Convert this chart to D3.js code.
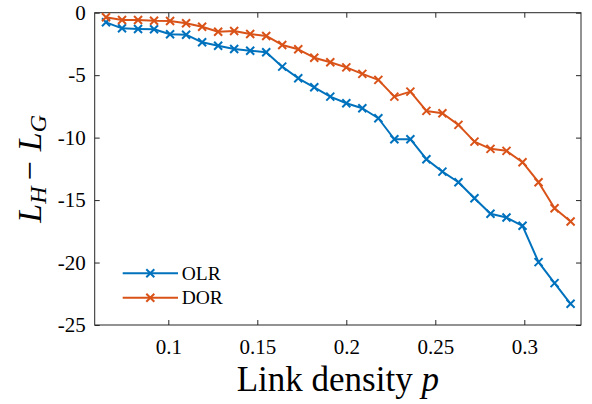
<!DOCTYPE html>
<html>
<head>
<meta charset="utf-8">
<script src="https://cdn.jsdelivr.net/npm/d3@7"></script>
<style>
  body { margin: 0; background: #fff; }
  svg text { font-family: 'Liberation Serif', serif; fill: #000; }
</style>
</head>
<body>
<div id="chart"></div>
<script>
// link density values (x)
const density = [0.065, 0.074, 0.083, 0.092, 0.101, 0.110, 0.119, 0.128, 0.137, 0.146,
  0.155, 0.164, 0.173, 0.182, 0.191, 0.200, 0.209, 0.218, 0.227, 0.236,
  0.245, 0.254, 0.263, 0.272, 0.281, 0.290, 0.299, 0.308, 0.317, 0.326];

const olr = [-0.77, -1.25, -1.30, -1.33, -1.73, -1.76, -2.37, -2.64, -2.90, -3.04,
  -3.17, -4.32, -5.25, -5.97, -6.72, -7.25, -7.65, -8.45, -10.13, -10.13,
  -11.73, -12.72, -13.57, -14.85, -16.10, -16.40, -17.06, -19.97, -21.65, -23.30];

const dor = [-0.37, -0.58, -0.58, -0.64, -0.66, -0.85, -1.12, -1.52, -1.46, -1.70,
  -1.86, -2.58, -2.93, -3.60, -3.97, -4.38, -4.90, -5.38, -6.72, -6.32,
  -7.86, -8.05, -8.98, -10.32, -10.90, -11.06, -11.97, -13.57, -15.65, -16.72];

const seriesNames = ["OLR", "DOR"];
const xTicks = [0.1, 0.15, 0.2, 0.25, 0.3];
const yTicks = [0, -5, -10, -15, -20, -25];

const colors = ["#0072BD", "#D95319"];
const series = [olr, dor].map((vals, i) => ({
  name: seriesNames[i],
  color: colors[i],
  points: vals.map((v, j) => ({ p: density[j], v }))
}));

const fullWidth = 592;
const fullHeight = 404;
const margin = { top: 12.7, right: 11, bottom: 79, left: 94.7 };
const width = fullWidth - margin.left - margin.right;
const height = fullHeight - margin.top - margin.bottom;

const svg = d3.select("#chart")
  .append("svg")
  .attr("width", fullWidth)
  .attr("height", fullHeight);

const g = svg.append("g")
  .attr("transform", `translate(${margin.left}, ${margin.top})`);

const xScale = d3.scaleLinear().domain([0.05865, 0.33185]).range([0, width]);
const yScale = d3.scaleLinear().domain([-25, 0]).range([height, 0]);

const axisColor = "#262626";
const tickLen = 5;

// frame
g.append("rect")
  .attr("width", width)
  .attr("height", height)
  .attr("fill", "none")
  .attr("stroke", axisColor)
  .attr("stroke-width", 1);

// inward ticks on all four sides
const styleAxis = sel => {
  sel.attr("font-family", null);
  sel.select(".domain").remove();
  sel.selectAll(".tick line").attr("stroke", axisColor);
  sel.selectAll(".tick text")
    .style("font-family", "'Liberation Serif', serif")
    .style("font-size", "21px")
    .style("fill", "#000");
};

g.append("g")
  .attr("transform", `translate(0, ${height})`)
  .call(d3.axisBottom(xScale).tickValues(xTicks).tickSizeInner(-tickLen).tickSizeOuter(0)
    .tickPadding(14).tickFormat(d3.format("")))
  .call(styleAxis);

g.append("g")
  .call(d3.axisTop(xScale).tickValues(xTicks).tickSizeInner(-tickLen).tickSizeOuter(0).tickFormat(""))
  .call(styleAxis);

g.append("g")
  .call(d3.axisLeft(yScale).tickValues(yTicks).tickSizeInner(-tickLen).tickSizeOuter(0)
    .tickPadding(9).tickFormat(d => d < 0 ? "-" + Math.abs(d) : d))
  .call(styleAxis);

g.append("g")
  .attr("transform", `translate(${width}, 0)`)
  .call(d3.axisRight(yScale).tickValues(yTicks).tickSizeInner(-tickLen).tickSizeOuter(0).tickFormat(""))
  .call(styleAxis);

// lines and x markers
const line = d3.line().x(d => xScale(d.p)).y(d => yScale(d.v));
const m = 4;
const crossPath = (x, y) =>
  `M${x - m},${y - m}L${x + m},${y + m}M${x - m},${y + m}L${x + m},${y - m}`;

series.forEach(s => {
  g.append("path")
    .datum(s.points)
    .attr("d", line)
    .attr("fill", "none")
    .attr("stroke", s.color)
    .attr("stroke-width", 2)
    .attr("stroke-linejoin", "round");

  g.append("g").selectAll("path")
    .data(s.points)
    .join("path")
    .attr("d", d => crossPath(xScale(d.p), yScale(d.v)))
    .attr("stroke", s.color)
    .attr("stroke-width", 2)
    .attr("fill", "none");
});

// legend, no box
const legend = svg.append("g").attr("transform", "translate(122.7, 273.3)");
series.forEach((s, i) => {
  const row = legend.append("g").attr("transform", `translate(0, ${i * 24.4})`);
  row.append("line")
    .attr("x1", 0).attr("x2", 55.3)
    .attr("stroke", s.color).attr("stroke-width", 2);
  row.append("path")
    .attr("d", crossPath(27.6, 0))
    .attr("stroke", s.color).attr("stroke-width", 2);
  row.append("text")
    .attr("x", 59)
    .attr("y", 6.5)
    .style("font-size", "19.5px")
    .text(s.name);
});

// axis titles
svg.append("text")
  .attr("x", margin.left + width / 2)
  .attr("y", 391)
  .attr("text-anchor", "middle")
  .style("font-size", "35px")
  .call(t => {
    t.append("tspan").text("Link density ");
    t.append("tspan").style("font-style", "italic").text("p");
  });

svg.append("text")
  .attr("transform", `translate(41, ${margin.top + height / 2}) rotate(-90)`)
  .attr("text-anchor", "middle")
  .style("font-size", "34px")
  .call(t => {
    t.append("tspan").style("font-style", "italic").text("L");
    t.append("tspan").style("font-style", "italic").style("font-size", "24px").attr("dy", 5).text("H");
    t.append("tspan").attr("dy", -5).attr("dx", 6).text("\u2212");
    t.append("tspan").attr("dx", 10).style("font-style", "italic").text("L");
    t.append("tspan").style("font-style", "italic").style("font-size", "24px").attr("dy", 5).text("G");
  });
</script>
</body>
</html>
